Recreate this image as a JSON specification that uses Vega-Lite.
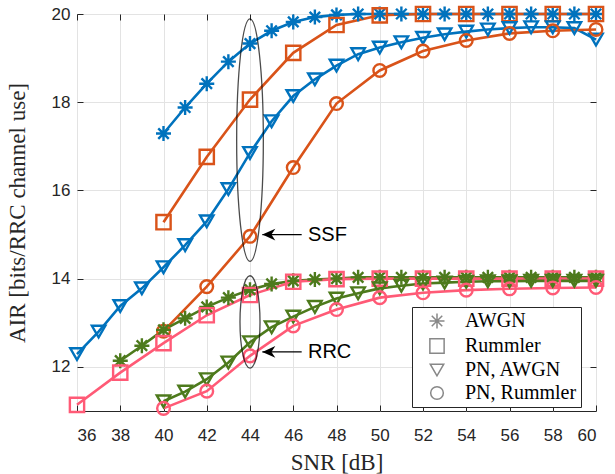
{
  "$schema": "https://vega.github.io/schema/vega-lite/v6.json",
  "width": 519,
  "height": 397,
  "autosize": {"type": "none"},
  "padding": {"left": 77, "top": 14, "right": 19, "bottom": 63},
  "background": "white",
  "config": {
    "view": {"stroke": "#262626", "strokeWidth": 1},
    "axis": {
      "domain": false,
      "grid": true,
      "gridColor": "#E3E3E3",
      "gridWidth": 1,
      "tickColor": "#262626",
      "tickSize": -6,
      "labelFont": "Liberation Sans",
      "labelFontSize": 17,
      "labelColor": "#262626",
      "titleFont": "Liberation Serif",
      "titleFontSize": 23,
      "titleFontWeight": "normal",
      "titleColor": "#262626"
    }
  },
  "datasets": {
    "curves": [
      {"snr": 40, "air": 17.29, "curve": "SSF AWGN", "type": "AWGN"},
      {"snr": 41, "air": 17.88, "curve": "SSF AWGN", "type": "AWGN"},
      {"snr": 42, "air": 18.42, "curve": "SSF AWGN", "type": "AWGN"},
      {"snr": 43, "air": 18.92, "curve": "SSF AWGN", "type": "AWGN"},
      {"snr": 44, "air": 19.33, "curve": "SSF AWGN", "type": "AWGN"},
      {"snr": 45, "air": 19.62, "curve": "SSF AWGN", "type": "AWGN"},
      {"snr": 46, "air": 19.82, "curve": "SSF AWGN", "type": "AWGN"},
      {"snr": 47, "air": 19.93, "curve": "SSF AWGN", "type": "AWGN"},
      {"snr": 48, "air": 19.98, "curve": "SSF AWGN", "type": "AWGN"},
      {"snr": 49, "air": 20.0, "curve": "SSF AWGN", "type": "AWGN"},
      {"snr": 50, "air": 20.0, "curve": "SSF AWGN", "type": "AWGN"},
      {"snr": 51, "air": 20.0, "curve": "SSF AWGN", "type": "AWGN"},
      {"snr": 52, "air": 20.0, "curve": "SSF AWGN", "type": "AWGN"},
      {"snr": 53, "air": 20.0, "curve": "SSF AWGN", "type": "AWGN"},
      {"snr": 54, "air": 20.0, "curve": "SSF AWGN", "type": "AWGN"},
      {"snr": 55, "air": 20.0, "curve": "SSF AWGN", "type": "AWGN"},
      {"snr": 56, "air": 20.0, "curve": "SSF AWGN", "type": "AWGN"},
      {"snr": 57, "air": 20.0, "curve": "SSF AWGN", "type": "AWGN"},
      {"snr": 58, "air": 20.0, "curve": "SSF AWGN", "type": "AWGN"},
      {"snr": 59, "air": 20.0, "curve": "SSF AWGN", "type": "AWGN"},
      {"snr": 60, "air": 20.0, "curve": "SSF AWGN", "type": "AWGN"},
      {"snr": 40, "air": 15.28, "curve": "SSF Rummler", "type": "Rummler"},
      {"snr": 42, "air": 16.76, "curve": "SSF Rummler", "type": "Rummler"},
      {"snr": 44, "air": 18.06, "curve": "SSF Rummler", "type": "Rummler"},
      {"snr": 46, "air": 19.12, "curve": "SSF Rummler", "type": "Rummler"},
      {"snr": 48, "air": 19.75, "curve": "SSF Rummler", "type": "Rummler"},
      {"snr": 50, "air": 19.97, "curve": "SSF Rummler", "type": "Rummler"},
      {"snr": 52, "air": 20.0, "curve": "SSF Rummler", "type": "Rummler"},
      {"snr": 54, "air": 20.0, "curve": "SSF Rummler", "type": "Rummler"},
      {"snr": 56, "air": 20.0, "curve": "SSF Rummler", "type": "Rummler"},
      {"snr": 58, "air": 20.0, "curve": "SSF Rummler", "type": "Rummler"},
      {"snr": 60, "air": 20.0, "curve": "SSF Rummler", "type": "Rummler"},
      {"snr": 36, "air": 12.29, "curve": "SSF PN AWGN", "type": "PN, AWGN"},
      {"snr": 37, "air": 12.8, "curve": "SSF PN AWGN", "type": "PN, AWGN"},
      {"snr": 38, "air": 13.38, "curve": "SSF PN AWGN", "type": "PN, AWGN"},
      {"snr": 39, "air": 13.78, "curve": "SSF PN AWGN", "type": "PN, AWGN"},
      {"snr": 40, "air": 14.26, "curve": "SSF PN AWGN", "type": "PN, AWGN"},
      {"snr": 41, "air": 14.76, "curve": "SSF PN AWGN", "type": "PN, AWGN"},
      {"snr": 42, "air": 15.3, "curve": "SSF PN AWGN", "type": "PN, AWGN"},
      {"snr": 43, "air": 16.03, "curve": "SSF PN AWGN", "type": "PN, AWGN"},
      {"snr": 44, "air": 16.85, "curve": "SSF PN AWGN", "type": "PN, AWGN"},
      {"snr": 45, "air": 17.57, "curve": "SSF PN AWGN", "type": "PN, AWGN"},
      {"snr": 46, "air": 18.14, "curve": "SSF PN AWGN", "type": "PN, AWGN"},
      {"snr": 47, "air": 18.52, "curve": "SSF PN AWGN", "type": "PN, AWGN"},
      {"snr": 48, "air": 18.83, "curve": "SSF PN AWGN", "type": "PN, AWGN"},
      {"snr": 49, "air": 19.09, "curve": "SSF PN AWGN", "type": "PN, AWGN"},
      {"snr": 50, "air": 19.24, "curve": "SSF PN AWGN", "type": "PN, AWGN"},
      {"snr": 51, "air": 19.36, "curve": "SSF PN AWGN", "type": "PN, AWGN"},
      {"snr": 52, "air": 19.46, "curve": "SSF PN AWGN", "type": "PN, AWGN"},
      {"snr": 53, "air": 19.54, "curve": "SSF PN AWGN", "type": "PN, AWGN"},
      {"snr": 54, "air": 19.6, "curve": "SSF PN AWGN", "type": "PN, AWGN"},
      {"snr": 55, "air": 19.65, "curve": "SSF PN AWGN", "type": "PN, AWGN"},
      {"snr": 56, "air": 19.68, "curve": "SSF PN AWGN", "type": "PN, AWGN"},
      {"snr": 57, "air": 19.7, "curve": "SSF PN AWGN", "type": "PN, AWGN"},
      {"snr": 58, "air": 19.7, "curve": "SSF PN AWGN", "type": "PN, AWGN"},
      {"snr": 59, "air": 19.68, "curve": "SSF PN AWGN", "type": "PN, AWGN"},
      {"snr": 60, "air": 19.42, "curve": "SSF PN AWGN", "type": "PN, AWGN"},
      {"snr": 40, "air": 12.81, "curve": "SSF PN Rummler", "type": "PN, Rummler"},
      {"snr": 42, "air": 13.82, "curve": "SSF PN Rummler", "type": "PN, Rummler"},
      {"snr": 44, "air": 14.96, "curve": "SSF PN Rummler", "type": "PN, Rummler"},
      {"snr": 46, "air": 16.52, "curve": "SSF PN Rummler", "type": "PN, Rummler"},
      {"snr": 48, "air": 17.97, "curve": "SSF PN Rummler", "type": "PN, Rummler"},
      {"snr": 50, "air": 18.72, "curve": "SSF PN Rummler", "type": "PN, Rummler"},
      {"snr": 52, "air": 19.16, "curve": "SSF PN Rummler", "type": "PN, Rummler"},
      {"snr": 54, "air": 19.4, "curve": "SSF PN Rummler", "type": "PN, Rummler"},
      {"snr": 56, "air": 19.56, "curve": "SSF PN Rummler", "type": "PN, Rummler"},
      {"snr": 58, "air": 19.62, "curve": "SSF PN Rummler", "type": "PN, Rummler"},
      {"snr": 60, "air": 19.65, "curve": "SSF PN Rummler", "type": "PN, Rummler"},
      {"snr": 38, "air": 12.14, "curve": "RRC AWGN", "type": "AWGN"},
      {"snr": 39, "air": 12.48, "curve": "RRC AWGN", "type": "AWGN"},
      {"snr": 40, "air": 12.84, "curve": "RRC AWGN", "type": "AWGN"},
      {"snr": 41, "air": 13.1, "curve": "RRC AWGN", "type": "AWGN"},
      {"snr": 42, "air": 13.36, "curve": "RRC AWGN", "type": "AWGN"},
      {"snr": 43, "air": 13.57, "curve": "RRC AWGN", "type": "AWGN"},
      {"snr": 44, "air": 13.75, "curve": "RRC AWGN", "type": "AWGN"},
      {"snr": 45, "air": 13.88, "curve": "RRC AWGN", "type": "AWGN"},
      {"snr": 46, "air": 13.95, "curve": "RRC AWGN", "type": "AWGN"},
      {"snr": 47, "air": 13.98, "curve": "RRC AWGN", "type": "AWGN"},
      {"snr": 48, "air": 14.0, "curve": "RRC AWGN", "type": "AWGN"},
      {"snr": 49, "air": 14.03, "curve": "RRC AWGN", "type": "AWGN"},
      {"snr": 50, "air": 14.03, "curve": "RRC AWGN", "type": "AWGN"},
      {"snr": 51, "air": 14.03, "curve": "RRC AWGN", "type": "AWGN"},
      {"snr": 52, "air": 14.03, "curve": "RRC AWGN", "type": "AWGN"},
      {"snr": 53, "air": 14.03, "curve": "RRC AWGN", "type": "AWGN"},
      {"snr": 54, "air": 14.03, "curve": "RRC AWGN", "type": "AWGN"},
      {"snr": 55, "air": 14.03, "curve": "RRC AWGN", "type": "AWGN"},
      {"snr": 56, "air": 14.03, "curve": "RRC AWGN", "type": "AWGN"},
      {"snr": 57, "air": 14.03, "curve": "RRC AWGN", "type": "AWGN"},
      {"snr": 58, "air": 14.03, "curve": "RRC AWGN", "type": "AWGN"},
      {"snr": 59, "air": 14.03, "curve": "RRC AWGN", "type": "AWGN"},
      {"snr": 60, "air": 14.03, "curve": "RRC AWGN", "type": "AWGN"},
      {"snr": 36, "air": 11.14, "curve": "RRC Rummler", "type": "Rummler"},
      {"snr": 38, "air": 11.87, "curve": "RRC Rummler", "type": "Rummler"},
      {"snr": 40, "air": 12.54, "curve": "RRC Rummler", "type": "Rummler"},
      {"snr": 42, "air": 13.17, "curve": "RRC Rummler", "type": "Rummler"},
      {"snr": 44, "air": 13.63, "curve": "RRC Rummler", "type": "Rummler"},
      {"snr": 46, "air": 13.93, "curve": "RRC Rummler", "type": "Rummler"},
      {"snr": 48, "air": 13.99, "curve": "RRC Rummler", "type": "Rummler"},
      {"snr": 50, "air": 14.0, "curve": "RRC Rummler", "type": "Rummler"},
      {"snr": 52, "air": 14.0, "curve": "RRC Rummler", "type": "Rummler"},
      {"snr": 54, "air": 14.0, "curve": "RRC Rummler", "type": "Rummler"},
      {"snr": 56, "air": 14.0, "curve": "RRC Rummler", "type": "Rummler"},
      {"snr": 58, "air": 14.0, "curve": "RRC Rummler", "type": "Rummler"},
      {"snr": 60, "air": 14.0, "curve": "RRC Rummler", "type": "Rummler"},
      {"snr": 40, "air": 11.22, "curve": "RRC PN AWGN", "type": "PN, AWGN"},
      {"snr": 41, "air": 11.44, "curve": "RRC PN AWGN", "type": "PN, AWGN"},
      {"snr": 42, "air": 11.72, "curve": "RRC PN AWGN", "type": "PN, AWGN"},
      {"snr": 43, "air": 12.1, "curve": "RRC PN AWGN", "type": "PN, AWGN"},
      {"snr": 44, "air": 12.56, "curve": "RRC PN AWGN", "type": "PN, AWGN"},
      {"snr": 45, "air": 12.9, "curve": "RRC PN AWGN", "type": "PN, AWGN"},
      {"snr": 46, "air": 13.14, "curve": "RRC PN AWGN", "type": "PN, AWGN"},
      {"snr": 47, "air": 13.36, "curve": "RRC PN AWGN", "type": "PN, AWGN"},
      {"snr": 48, "air": 13.55, "curve": "RRC PN AWGN", "type": "PN, AWGN"},
      {"snr": 49, "air": 13.67, "curve": "RRC PN AWGN", "type": "PN, AWGN"},
      {"snr": 50, "air": 13.78, "curve": "RRC PN AWGN", "type": "PN, AWGN"},
      {"snr": 51, "air": 13.84, "curve": "RRC PN AWGN", "type": "PN, AWGN"},
      {"snr": 52, "air": 13.89, "curve": "RRC PN AWGN", "type": "PN, AWGN"},
      {"snr": 53, "air": 13.91, "curve": "RRC PN AWGN", "type": "PN, AWGN"},
      {"snr": 54, "air": 13.93, "curve": "RRC PN AWGN", "type": "PN, AWGN"},
      {"snr": 55, "air": 13.94, "curve": "RRC PN AWGN", "type": "PN, AWGN"},
      {"snr": 56, "air": 13.94, "curve": "RRC PN AWGN", "type": "PN, AWGN"},
      {"snr": 57, "air": 13.95, "curve": "RRC PN AWGN", "type": "PN, AWGN"},
      {"snr": 58, "air": 13.95, "curve": "RRC PN AWGN", "type": "PN, AWGN"},
      {"snr": 59, "air": 13.95, "curve": "RRC PN AWGN", "type": "PN, AWGN"},
      {"snr": 60, "air": 13.95, "curve": "RRC PN AWGN", "type": "PN, AWGN"},
      {"snr": 40, "air": 11.06, "curve": "RRC PN Rummler", "type": "PN, Rummler"},
      {"snr": 42, "air": 11.45, "curve": "RRC PN Rummler", "type": "PN, Rummler"},
      {"snr": 44, "air": 12.25, "curve": "RRC PN Rummler", "type": "PN, Rummler"},
      {"snr": 46, "air": 12.93, "curve": "RRC PN Rummler", "type": "PN, Rummler"},
      {"snr": 48, "air": 13.3, "curve": "RRC PN Rummler", "type": "PN, Rummler"},
      {"snr": 50, "air": 13.57, "curve": "RRC PN Rummler", "type": "PN, Rummler"},
      {"snr": 52, "air": 13.68, "curve": "RRC PN Rummler", "type": "PN, Rummler"},
      {"snr": 54, "air": 13.74, "curve": "RRC PN Rummler", "type": "PN, Rummler"},
      {"snr": 56, "air": 13.77, "curve": "RRC PN Rummler", "type": "PN, Rummler"},
      {"snr": 58, "air": 13.79, "curve": "RRC PN Rummler", "type": "PN, Rummler"},
      {"snr": 60, "air": 13.8, "curve": "RRC PN Rummler", "type": "PN, Rummler"}
    ],
    "notes": [
      {"label": "SSF", "tip": 44.57, "tail": 46.39, "text": 46.68, "air": 15.0},
      {"label": "RRC", "tip": 44.57, "tail": 46.39, "text": 46.68, "air": 12.34}
    ]
  },
  "layer": [
    {
      "data": {"name": "curves"},
      "mark": {"type": "line", "strokeWidth": 2.6},
      "encoding": {
        "x": {
          "field": "snr", "type": "quantitative",
          "scale": {"domain": [36, 60], "nice": false, "zero": false},
          "axis": {"orient": "bottom", "title": "SNR [dB]", "values": [36, 38, 40, 42, 44, 46, 48, 50, 52, 54, 56, 58, 60], "labelPadding": 22, "titlePadding": 8}
        },
        "y": {
          "field": "air", "type": "quantitative",
          "scale": {"domain": [11, 20], "nice": false, "zero": false},
          "axis": {"orient": "left", "title": "AIR [bits/RRC channel use]", "values": [12, 14, 16, 18, 20], "labelPadding": 13, "titlePadding": 22}
        },
        "color": {
          "field": "curve", "type": "nominal", "legend": null,
          "scale": {
            "domain": ["SSF AWGN", "SSF Rummler", "SSF PN AWGN", "SSF PN Rummler", "RRC AWGN", "RRC Rummler", "RRC PN AWGN", "RRC PN Rummler"],
            "range": ["#0072BD", "#D95319", "#0072BD", "#D95319", "#4D7A1C", "#FF5A76", "#4D7A1C", "#FF5A76"]
          }
        }
      }
    },
    {
      "data": {"name": "curves"},
      "mark": {"type": "point", "filled": false, "strokeWidth": 2.4, "opacity": 1},
      "encoding": {
        "x": {"field": "snr", "type": "quantitative", "axis": null},
        "y": {"field": "air", "type": "quantitative", "axis": null},
        "color": {"field": "curve", "type": "nominal", "legend": null},
        "shape": {
          "field": "type", "type": "nominal",
          "scale": {
            "domain": ["AWGN", "Rummler", "PN, AWGN", "PN, Rummler"],
            "range": ["M0,-1L0,1M-1,0L1,0M-0.7,-0.7L0.7,0.7M-0.7,0.7L0.7,-0.7", "square", "triangle-down", "circle"]
          },
          "legend": {
            "title": null,
            "orient": "none",
            "legendX": 335,
            "legendY": 293,
            "padding": 4,
            "strokeColor": "#262626",
            "fillColor": "white",
            "labelFont": "Liberation Serif",
            "labelFontSize": 20,
            "labelColor": "#000000",
            "symbolOffset": 11,
            "labelOffset": 18,
            "rowPadding": 3,
            "encode": {
              "symbols": {"update": {"stroke": {"value": "#808080"}, "fill": {"value": "transparent"}, "strokeWidth": {"value": 2.8}}}
            }
          }
        },
        "size": {
          "field": "type", "type": "nominal",
          "scale": {"domain": ["AWGN", "Rummler", "PN, AWGN", "PN, Rummler"], "range": [225, 160, 320, 240]}
        }
      }
    },
    {
      "data": {"values": [{"snr": 44, "air": 17.14}]},
      "mark": {"type": "point", "filled": false, "stroke": "#000000", "strokeWidth": 1.3, "size": 58758, "shape": "M0,-1A0.11,1 0 1,1 0,1A0.11,1 0 1,1 0,-1"},
      "encoding": {
        "x": {"field": "snr", "type": "quantitative", "axis": {"orient": "top", "labels": false, "grid": false, "title": null, "values": [36, 38, 40, 42, 44, 46, 48, 50, 52, 54, 56, 58, 60]}},
        "y": {"field": "air", "type": "quantitative", "axis": {"orient": "right", "labels": false, "grid": false, "title": null, "values": [12, 14, 16, 18, 20]}}
      }
    },
    {
      "data": {"values": [{"snr": 44, "air": 13.02}]},
      "mark": {"type": "point", "filled": false, "stroke": "#000000", "strokeWidth": 1.3, "size": 8519, "shape": "M0,-1A0.217,1 0 1,1 0,1A0.217,1 0 1,1 0,-1"},
      "encoding": {
        "x": {"field": "snr", "type": "quantitative", "axis": null},
        "y": {"field": "air", "type": "quantitative", "axis": null}
      }
    },
    {
      "data": {"name": "notes"},
      "mark": {"type": "rule", "stroke": "#000000", "strokeWidth": 1.3},
      "encoding": {
        "x": {"field": "tip", "type": "quantitative", "axis": null},
        "x2": {"field": "tail"},
        "y": {"field": "air", "type": "quantitative", "axis": null}
      }
    },
    {
      "data": {"name": "notes"},
      "mark": {"type": "point", "filled": true, "fill": "#000000", "stroke": null, "opacity": 1, "size": 676, "shape": "M0,0L1,-0.45L0.7,0L1,0.45Z"},
      "encoding": {
        "x": {"field": "tip", "type": "quantitative", "axis": null},
        "y": {"field": "air", "type": "quantitative", "axis": null}
      }
    },
    {
      "data": {"name": "notes"},
      "mark": {"type": "text", "align": "left", "baseline": "middle", "font": "Liberation Sans", "fontSize": 20, "color": "#000000"},
      "encoding": {
        "x": {"field": "text", "type": "quantitative", "axis": null},
        "y": {"field": "air", "type": "quantitative", "axis": null},
        "text": {"field": "label"}
      }
    }
  ],
  "resolve": {"axis": {"x": "independent", "y": "independent"}}
}
